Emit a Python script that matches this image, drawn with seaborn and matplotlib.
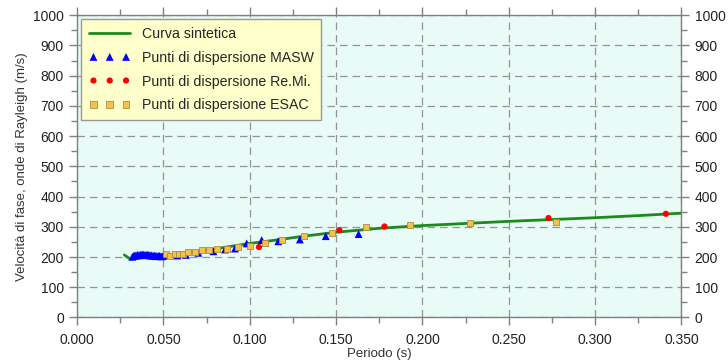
import numpy as np
import pandas as pd
import matplotlib
matplotlib.use("Agg")
import matplotlib.pyplot as plt
import seaborn as sns
from matplotlib.ticker import MultipleLocator

# synthetic curve
curve_x = [0.0273, 0.031, 0.035, 0.040, 0.045, 0.050, 0.060, 0.070, 0.080, 0.090, 0.100,
           0.115, 0.130, 0.150, 0.175, 0.200, 0.225, 0.250, 0.275, 0.300, 0.325, 0.350]
curve_y = [207, 192, 196, 199, 202, 206, 212, 219, 227, 236, 245,
           256, 268, 282, 295, 304, 311, 318, 324, 330, 337, 345]

# MASW points
masw_x = [0.0320, 0.0328, 0.0335, 0.0342, 0.0350, 0.0357, 0.0365, 0.0372, 0.0380, 0.0387,
          0.0395, 0.0402, 0.0410, 0.0417, 0.0425, 0.0432, 0.0440, 0.0447, 0.0455, 0.0462,
          0.0470, 0.0477, 0.0485, 0.0492, 0.0500,
          0.0580, 0.0630, 0.0702, 0.0789, 0.0856, 0.0914, 0.0982, 0.1069, 0.1165, 0.1290,
          0.1440, 0.1630]
masw_y = [201, 204, 206, 205, 207, 206, 208, 207, 209, 208,
          206, 207, 208, 206, 205, 206, 204, 205, 203, 204,
          203, 204, 202, 203, 204,
          205, 207, 214, 219, 225, 228, 245, 256, 252, 258,
          269, 276]

# Re.Mi. points
remi_x = [0.1053, 0.1519, 0.1780, 0.2730, 0.3410]
remi_y = [233, 289, 301, 329, 343]

# ESAC points
esac_x = [0.0512, 0.0537, 0.0566, 0.0591, 0.0615, 0.0644, 0.0682, 0.0721, 0.0763, 0.0808,
          0.0866, 0.0930, 0.1003, 0.1088, 0.1188, 0.1316, 0.1478, 0.1672, 0.1930, 0.2277,
          0.2775]
esac_y = [209, 203, 209, 209, 210, 215, 215, 222, 222, 226,
          226, 233, 238, 245, 256, 268, 281, 299, 306, 311,
          317]

df_curve = pd.DataFrame({"x": curve_x, "y": curve_y})
df_masw = pd.DataFrame({"x": masw_x, "y": masw_y})
df_remi = pd.DataFrame({"x": remi_x, "y": remi_y})
df_esac = pd.DataFrame({"x": esac_x, "y": esac_y})

sns.set_style("ticks")
plt.rcParams["font.family"] = ["Liberation Sans", "DejaVu Sans"]

fig = plt.figure(figsize=(7.28, 3.62), dpi=100)
ax = fig.add_axes([0.106, 0.123, 0.830, 0.835])
ax.set_facecolor("#e8fbf6")

sns.lineplot(x="x", y="y", data=df_curve, ax=ax, color="#1e8a1e", linewidth=2,
             label="Curva sintetica", zorder=3)
sns.scatterplot(x="x", y="y", data=df_masw, ax=ax, marker="^", color="#0000ff",
                edgecolor="none", s=32, label="Punti di dispersione MASW", zorder=4)
sns.scatterplot(x="x", y="y", data=df_remi, ax=ax, marker="o", color="#ff0000",
                edgecolor="none", s=20, label="Punti di dispersione Re.Mi.", zorder=5)
sns.scatterplot(x="x", y="y", data=df_esac, ax=ax, marker="s", color="#f2c24a",
                edgecolor="#b08a40", linewidth=0.6, s=24,
                label="Punti di dispersione ESAC", zorder=6)

ax.set_xlim(0, 0.35)
ax.set_ylim(0, 1000)
ax.xaxis.set_major_locator(MultipleLocator(0.05))
ax.xaxis.set_minor_locator(MultipleLocator(0.025))
ax.yaxis.set_major_locator(MultipleLocator(100))
ax.yaxis.set_minor_locator(MultipleLocator(50))
ax.xaxis.set_major_formatter(matplotlib.ticker.FormatStrFormatter("%.3f"))

ax.grid(True, which="major", color="#949494", linestyle=(0, (6, 4)), linewidth=0.9)
for s in ax.spines.values():
    s.set_color("#808080")
    s.set_linewidth(1)

ax.tick_params(which="both", direction="out", colors="#808080", labelcolor="#222222",
               top=True, right=True, labelright=True, labelsize=10)
ax.tick_params(which="major", length=6, width=1)
ax.tick_params(which="minor", length=4, width=1)
ax.tick_params(axis="x", which="major", pad=5)

ax.set_xlabel("Periodo (s)", fontsize=9.5, color="#333333", labelpad=1)
ax.set_ylabel("Velocità di fase, onde di Rayleigh (m/s)", fontsize=9.5, color="#333333", labelpad=4)

leg = ax.legend(loc="upper left", scatterpoints=3, scatteryoffsets=[0.5], fontsize=10.2,
                frameon=True, fancybox=False, facecolor="#ffffcc", edgecolor="#999999",
                framealpha=1, borderaxespad=0.3, borderpad=0.55, handlelength=2.9,
                labelspacing=0.68)
leg.get_frame().set_linewidth(1)

fig.savefig("out.png", dpi=100)
